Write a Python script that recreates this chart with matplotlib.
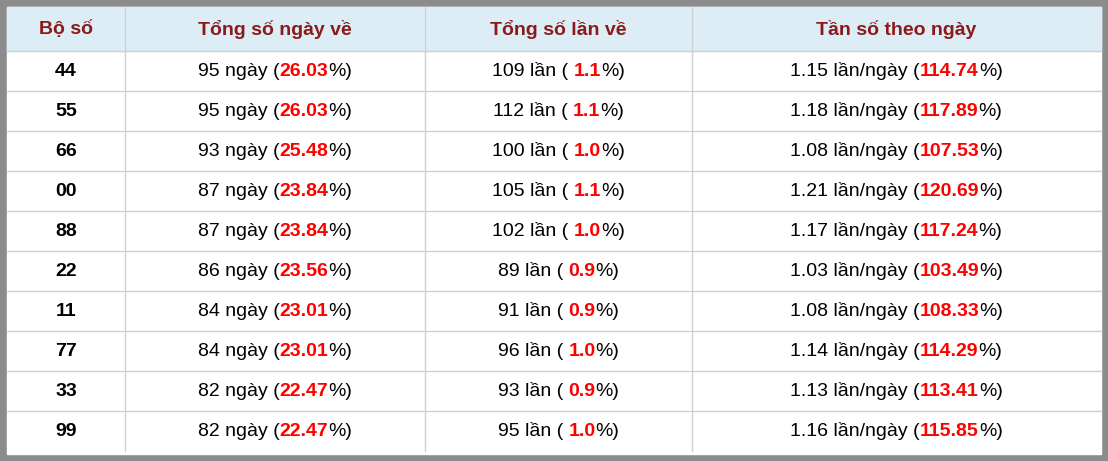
import matplotlib
matplotlib.use("Agg")
import matplotlib.pyplot as plt
from matplotlib.patches import Rectangle

plt.rcParams['font.family'] = ['Liberation Sans', 'DejaVu Sans']

headers = ["Bộ số", "Tổng số ngày về", "Tổng số lần về", "Tần số theo ngày"]
pairs = ["44", "55", "66", "00", "88", "22", "11", "77", "33", "99"]
days = [95, 95, 93, 87, 87, 86, 84, 84, 82, 82]
day_pct = ["26.03", "26.03", "25.48", "23.84", "23.84", "23.56", "23.01", "23.01", "22.47", "22.47"]
times = [109, 112, 100, 105, 102, 89, 91, 96, 93, 95]
time_pct = ["1.1", "1.1", "1.0", "1.1", "1.0", "0.9", "0.9", "1.0", "0.9", "1.0"]
freq = ["1.15", "1.18", "1.08", "1.21", "1.17", "1.03", "1.08", "1.14", "1.13", "1.16"]
freq_pct = ["114.74", "117.89", "107.53", "120.69", "117.24", "103.49", "108.33", "114.29", "113.41", "115.85"]

W, H = 1108, 461
fig = plt.figure(figsize=(W / 100, H / 100), dpi=100)
ax = fig.add_axes([0, 0, 1, 1])
ax.set_xlim(0, W)
ax.set_ylim(H, 0)
ax.axis('off')

# outer grey frame
ax.add_patch(Rectangle((0, 0), W, H, color='#8c8c8c'))
ax.add_patch(Rectangle((7, 7), W - 14, H - 14, color='white'))

cols = [7, 125, 425, 692, 1101]
top, head_h, row_h = 8, 43, 40
ax.add_patch(Rectangle((7, 7), W - 14, head_h + 1, color='#dcedf6'))

grid = '#d0d0d0'
for x in cols[1:-1]:
    ax.plot([x, x], [7, top + head_h + row_h * 10], color=grid, lw=1)
for i in range(1, 11):
    y = top + head_h + row_h * (i - 1)
    ax.plot([7, W - 7], [y, y], color=grid, lw=1)

fig.canvas.draw()
renderer = fig.canvas.get_renderer()
FS = 14


def pieces(cx, cy, parts):
    # parts: list of (text, color, weight)
    objs = []
    for s, c, w in parts:
        objs.append(ax.text(0, cy, s, color=c, fontweight=w, fontsize=FS,
                            va='center', ha='left'))
    widths = [o.get_window_extent(renderer).width for o in objs]
    x = cx - sum(widths) / 2
    for o, w in zip(objs, widths):
        o.set_x(x)
        x += w


hy = top + head_h / 2
for j, h in enumerate(headers):
    ax.text((cols[j] + cols[j + 1]) / 2, hy, h, color='#8b1a1a', fontsize=FS,
            fontweight='bold', ha='center', va='center')

red = '#ff0000'
for i in range(10):
    cy = top + head_h + row_h * i + row_h / 2
    ax.text((cols[0] + cols[1]) / 2, cy, pairs[i], fontsize=FS, fontweight='bold',
            ha='center', va='center', color='black')
    pieces((cols[1] + cols[2]) / 2, cy,
           [(f"{days[i]} ngày (", 'black', 'normal'), (day_pct[i], red, 'bold'), ("%)", 'black', 'normal')])
    pieces((cols[2] + cols[3]) / 2, cy,
           [(f"{times[i]} lần ( ", 'black', 'normal'), (time_pct[i], red, 'bold'), ("%)", 'black', 'normal')])
    pieces((cols[3] + cols[4]) / 2, cy,
           [(f"{freq[i]} lần/ngày (", 'black', 'normal'), (freq_pct[i], red, 'bold'), ("%)", 'black', 'normal')])

fig.savefig("out.png", dpi=100)
